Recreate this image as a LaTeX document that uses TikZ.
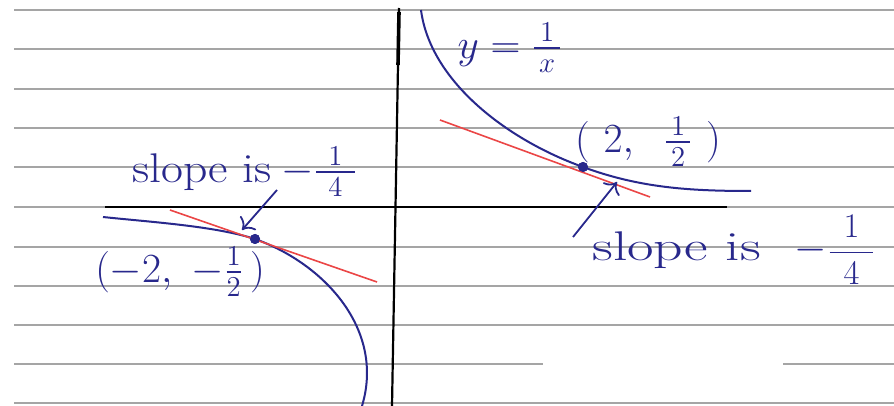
\documentclass[tikz,border=0pt]{standalone}
\usepackage{amsmath}
\usepackage{graphicx}
\usetikzlibrary{positioning,arrows.meta}
\definecolor{ink}{RGB}{40,40,140}
\definecolor{rule}{RGB}{165,165,165}
\definecolor{tang}{RGB}{235,70,70}
\tikzset{
  dot/.style={circle, fill=ink, inner sep=0pt, minimum size=5pt},
  lab/.style={text=ink, inner sep=0pt},
  curve/.style={ink, line width=1pt},
  tangent/.style={tang, line width=0.8pt},
  arr/.style={ink, line width=0.9pt, -{To[scale=1.4]}},
  ruled/.style={rule, line width=0.6pt}
}
\begin{document}
\begin{tikzpicture}[x=0.5pt,y=-0.5pt]
\useasboundingbox (0,0) rectangle (894,406);
\fill[white] (0,0) rectangle (894,406);

\foreach \y in {10,49,89,128,167,207,247,286,325,403}
  \draw[ruled] (14,\y) -- (894,\y);
\draw[ruled] (14,364) -- (543,364) (783,364) -- (894,364);

\draw[line width=1.1pt] (105,207) -- (727,207);
\draw[line width=1.1pt] (399,8) -- (392,406);
\draw[line width=1.8pt] (399,12) -- (398,65);

\node (1) [dot] at (583,167) {};
\node (2) [dot] at (255,239) {};

\draw[curve] (421,10) .. controls (430,80) and (505,139) .. (1.center)
  .. controls (640,188) and (690,191) .. (751,191);
\draw[curve] (103,217) .. controls (150,222) and (215,226) .. (2.center)
  .. controls (325,264) and (385,330) .. (362,406);

\coordinate (a) at (440,120);
\coordinate (b) at (650,197);
\coordinate (c) at (170,210);
\coordinate (d) at (377,282);
\draw[tangent] (a) -- (b);
\draw[tangent] (c) -- (d);
\node[dot] at (1) {};
\node[dot] at (2) {};

\node (3) [lab, font=\huge] at (510,48) {$y=\frac{\,1\,}{\,x\,}$};
\node (4) [lab, font=\huge] at (648,142) {$(\,\,2,\;\;\tfrac{\,1\,}{\,2\,}\,\,)$};
\node (5) [lab, font=\huge] at (180,272) {$(-2,\ -\tfrac{1}{2}\,)$};
\node (6) [lab, font=\huge, anchor=west] at (132,172) {\scalebox{1.15}[1]{slope is}\hspace{5pt}$-\tfrac{\hspace{6pt}1\hspace{6pt}}{4}$};
\node (7) [lab, font=\huge, anchor=west] at (592,250) {\scalebox{1.39}[1]{slope is}\hspace{17pt}$-${\LARGE$\dfrac{\hspace{7pt}1\hspace{7pt}}{4}$}};

\coordinate (e) at (277,190);
\coordinate (f) at (242,230);
\coordinate (g) at (573,237);
\coordinate (h) at (617,182);
\draw[arr] (e) -- (f);
\draw[arr] (g) -- (h);
\end{tikzpicture}
\end{document}
